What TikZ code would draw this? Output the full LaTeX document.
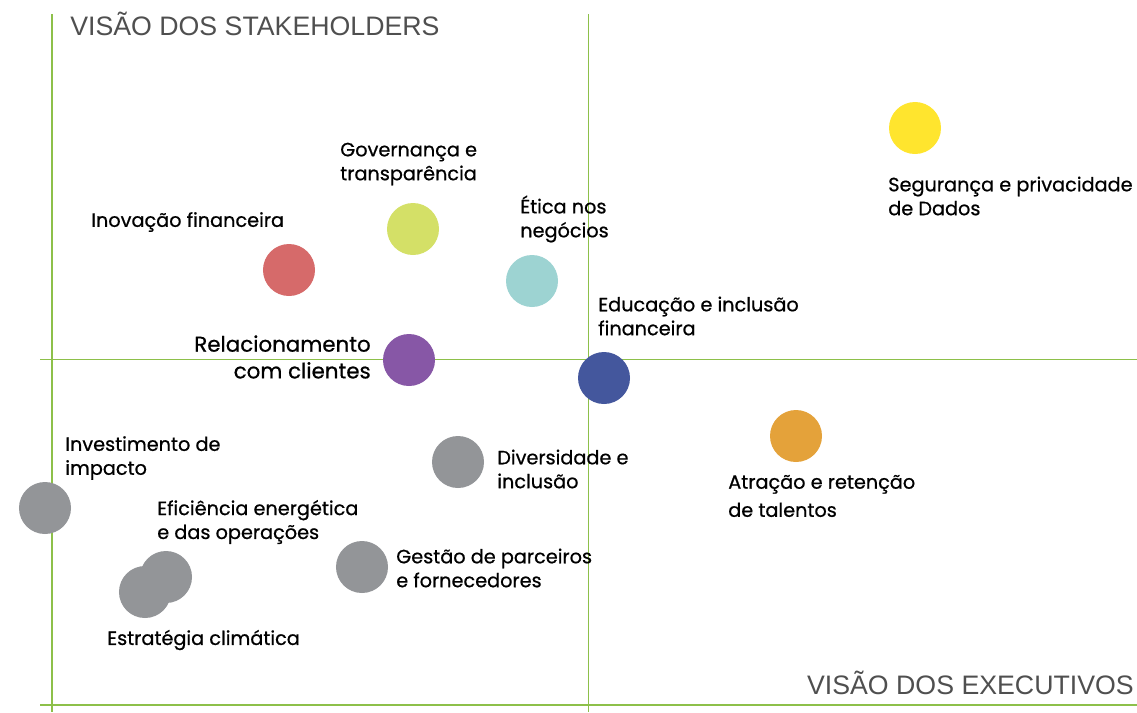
\documentclass[tikz,border=0pt]{standalone}
\usepackage{fontspec}
\setmainfont{Liberation Sans}
\newfontfamily\dotfont[FakeBold=0.7]{Poppins}
\usetikzlibrary{positioning}

\definecolor{axisgreen}{HTML}{8DC04A}
\definecolor{titlegray}{HTML}{4F4F4F}
\definecolor{dotgray}{HTML}{939598}
\definecolor{dotyellow}{HTML}{FFE52E}
\definecolor{dotlime}{HTML}{D4E067}
\definecolor{dotred}{HTML}{D66A6A}
\definecolor{dotteal}{HTML}{9DD3D2}
\definecolor{dotpurple}{HTML}{8757A6}
\definecolor{dotnavy}{HTML}{44579D}
\definecolor{dotorange}{HTML}{E4A23A}

\begin{document}
\begin{tikzpicture}[x=0.025cm,y=-0.025cm,
    bubble/.style={circle,minimum size=1.3cm,inner sep=0pt},
    tag/.style={anchor=west,align=left,inner sep=0pt,font=\dotfont\fontsize{13.7}{17}\selectfont},
    title/.style={inner sep=0pt,text=titlegray,font=\fontsize{19}{22}\selectfont}]
  \useasboundingbox (0,0) rectangle (1137,712);

  % axes
  \coordinate (ytop) at (52,14);
  \coordinate (ybot) at (52,712);
  \coordinate (mtop) at (588,14);
  \coordinate (mbot) at (588,712);
  \coordinate (hleft) at (40,359);
  \coordinate (hright) at (1137,359);
  \coordinate (xleft) at (40,705);
  \coordinate (xright) at (1137,705);
  \draw[axisgreen,line width=1.6pt] (ytop) -- (ybot);
  \draw[axisgreen,line width=1.6pt] (xleft) -- (xright);
  \draw[axisgreen,line width=0.7pt] (mtop) -- (mbot);
  \draw[axisgreen,line width=0.7pt] (hleft) -- (hright);

  % axis titles
  \node[title,anchor=west] (stake) at (70,24) {VISÃO DOS STAKEHOLDERS};
  \node[title,anchor=east] (exec) at (1134,683) {VISÃO DOS EXECUTIVOS};

  % bubbles
  \node[bubble,fill=dotyellow] (seg) at (915,128) {};
  \node[bubble,fill=dotlime] (gov) at (413,229) {};
  \node[bubble,fill=dotred] (inov) at (289,270) {};
  \node[bubble,fill=dotteal] (etica) at (532,281) {};
  \node[bubble,fill=dotpurple] (rel) at (409,360) {};
  \node[bubble,fill=dotnavy] (edu) at (604,378) {};
  \node[bubble,fill=dotorange] (atr) at (796,436) {};
  \node[bubble,fill=dotgray] (div) at (458,462) {};
  \node[bubble,fill=dotgray] (inv) at (45,508) {};
  \node[bubble,fill=dotgray] (efi) at (166,577) {};
  \node[bubble,fill=dotgray] (est) at (145,592) {};
  \node[bubble,fill=dotgray] (ges) at (362,567) {};

  % labels
  \node[tag] (segtxt) at (888,196) {Segurança e privacidade\\de Dados};
  \node[tag] (govtxt) at (340,164) {Governança e\\transparência};
  \node[tag] (inovtxt) at (91,222) {Inovação financeira};
  \node[tag] (eticatxt) at (520,219) {Ética nos\\negócios};
  \node[tag] (edutxt) at (598,316) {Educação e inclusão\\financeira};
  \node[anchor=east,align=right,inner sep=0pt,font=\dotfont\fontsize{15.2}{19}\selectfont]
    (reltxt) at (371,357) {Relacionamento\\com clientes};
  \node[tag] (invtxt) at (65,458) {Investimento de\\impacto};
  \node[tag] (divtxt) at (497,469) {Diversidade e\\inclusão};
  \node[tag,font=\dotfont\fontsize{13.7}{20}\selectfont] (atrtxt) at (728,496) {Atração e retenção\\de talentos};
  \node[tag] (efitxt) at (157,522) {Eficiência energética\\e das operações};
  \node[tag] (gestxt) at (396,568) {Gestão de parceiros\\e fornecedores};
  \node[tag] (esttxt) at (107,640) {Estratégia climática};
\end{tikzpicture}
\end{document}
